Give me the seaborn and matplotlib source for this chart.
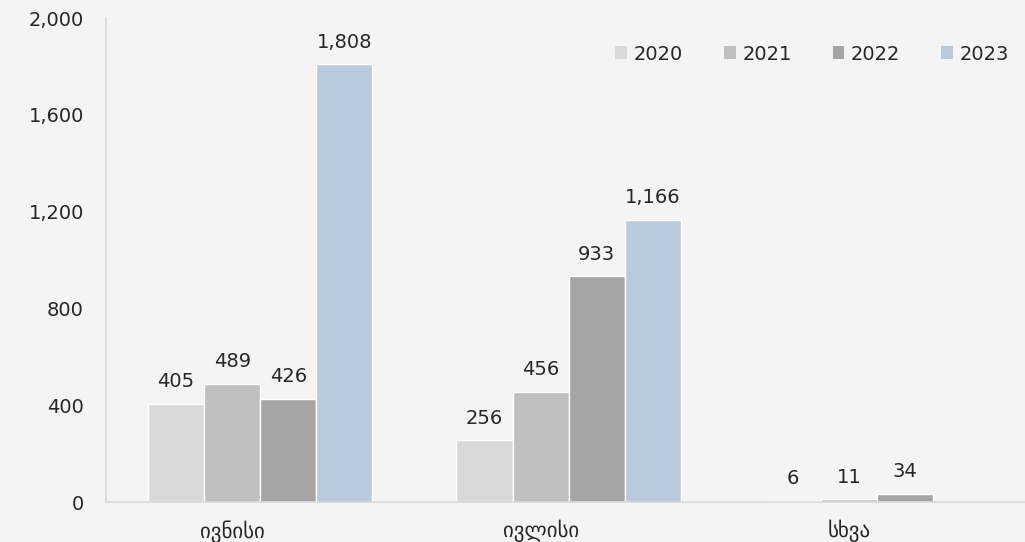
import matplotlib
matplotlib.use("Agg")
import matplotlib.pyplot as plt
import matplotlib.transforms as mtransforms
import seaborn as sns
import pandas as pd
from matplotlib.ticker import FuncFormatter

categories = ["ივნისი", "ივლისი", "სხვა"]
years = ["2020", "2021", "2022", "2023"]
v2020 = [405, 256, 6]
v2021 = [489, 456, 11]
v2022 = [426, 933, 34]
v2023 = [1808, 1166, 0]
colors = ["#d9d9d9", "#bfbfbf", "#a5a5a5", "#b9cade"]

rows = []
for y, vals in zip(years, [v2020, v2021, v2022, v2023]):
    for c, v in zip(categories, vals):
        rows.append({"cat": c, "year": y, "val": v})
df = pd.DataFrame(rows)

sns.set_theme(style="white")
plt.rcParams["font.family"] = ["DejaVu Sans"]
bg = "#f4f4f4"
txt = "#262626"
fig = plt.figure(figsize=(10.25, 5.42), dpi=100, facecolor=bg)
ax = fig.add_axes([106/1025, 1-502/542, (1025-106)/1025, (502-18)/542])
ax.set_facecolor(bg)

sns.barplot(data=df, x="cat", y="val", hue="year", palette=colors,
            width=0.727, edgecolor="white", linewidth=1, ax=ax, saturation=1)

for cont, vals in zip(ax.containers, [v2020, v2021, v2022, v2023]):
    labels = [f"{v:,}" if v > 0 else "" for v in vals]
    ax.bar_label(cont, labels=labels, padding=9, fontsize=14, color=txt)

ax.set_ylim(0, 2000)
ax.set_yticks(range(0, 2001, 400))
ax.yaxis.set_major_formatter(FuncFormatter(lambda v, p: f"{int(v):,}"))
ax.set_xlim(-0.5, 2.48)
ax.set_xlabel("")
ax.set_ylabel("")
ax.tick_params(axis="both", length=0, colors=txt)
ax.tick_params(axis="y", pad=16, labelsize=14)
ax.tick_params(axis="x", pad=13, labelsize=15)
shift = mtransforms.ScaledTranslation(-28/100, 0, fig.dpi_scale_trans)
for lab in ax.get_xticklabels():
    lab.set_transform(lab.get_transform() + shift)
for s in ["top", "right"]:
    ax.spines[s].set_visible(False)
for s in ["left", "bottom"]:
    ax.spines[s].set_color("#d9d9d9")
    ax.spines[s].set_linewidth(1.2)

leg = ax.legend(loc="center right", bbox_to_anchor=(1003/1025 + 0.006, 1-54/542),
                bbox_transform=fig.transFigure, ncol=4, frameon=False,
                fontsize=14, handlelength=0.6, handleheight=0.6, handletextpad=0.35,
                columnspacing=2.1, labelcolor=txt, borderaxespad=0, borderpad=0)
for h in leg.legend_handles:
    h.set_edgecolor("none")

fig.savefig("out.png", dpi=100, facecolor=bg)
